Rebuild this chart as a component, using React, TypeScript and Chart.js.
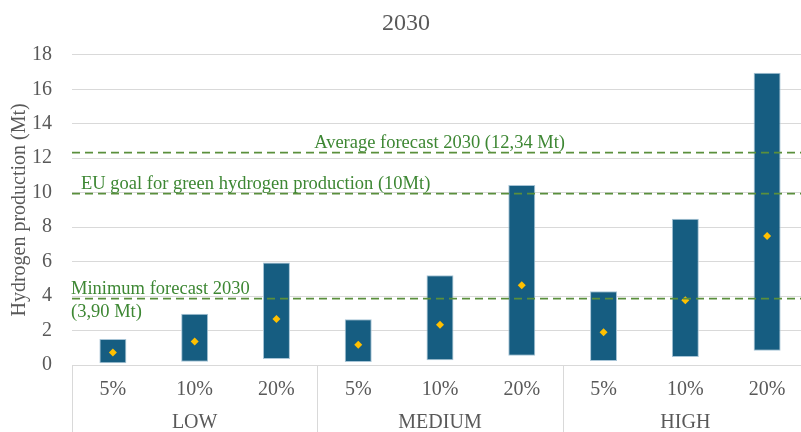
import { useEffect, useRef } from 'react';
import { Chart, registerables } from 'chart.js';

Chart.register(...registerables);

const chartTitle = '2030';
const yAxisTitle = 'Hydrogen production (Mt)';
const scenarios = ['LOW', 'MEDIUM', 'HIGH'];
const shares = ['5%', '10%', '20%'];
const categories = ['5%', '10%', '20%', '5%', '10%', '20%', '5%', '10%', '20%'];
const minValues = [0.1, 0.19, 0.35, 0.17, 0.27, 0.54, 0.23, 0.47, 0.83];
const maxValues = [1.51, 2.98, 5.95, 2.66, 5.21, 10.45, 4.28, 8.49, 16.96];
const meanValues = [0.72, 1.36, 2.67, 1.18, 2.34, 4.63, 1.9, 3.76, 7.48];
const yTicks = [0, 2, 4, 6, 8, 10, 12, 14, 16, 18];
const refValues = [12.34, 10, 3.9];
const refLabels = [
  ['Average forecast 2030 (12,34 Mt)'],
  ['EU goal for green hydrogen production (10Mt)'],
  ['Minimum forecast 2030', '(3,90 Mt)'],
];

const FONT = "'Liberation Serif', 'Times New Roman', serif";
const GRAY = '#595959';
const GRID = '#d9d9d9';
const GREEN_LINE = '#5a8f3c';
const GREEN_TEXT = '#3d8733';

const W = 812;
const H = 432;

const overlayPlugin = {
  id: 'overlay',
  afterDatasetsDraw(chart: any) {
    const { ctx, chartArea, scales } = chart;
    const x = scales.x;
    const y = scales.y;
    ctx.save();
    // reference lines
    ctx.strokeStyle = GREEN_LINE;
    ctx.lineWidth = 1.75;
    ctx.setLineDash([8, 5]);
    refValues.forEach((v) => {
      const py = Math.round(y.getPixelForValue(v)) + 0.5;
      ctx.beginPath();
      ctx.moveTo(chartArea.left, py);
      ctx.lineTo(chartArea.right, py);
      ctx.stroke();
    });
    ctx.setLineDash([]);
    // reference labels
    ctx.fillStyle = GREEN_TEXT;
    ctx.font = `18.5px ${FONT}`;
    ctx.textBaseline = 'alphabetic';
    const pAvg = y.getPixelForValue(refValues[0]);
    ctx.textAlign = 'right';
    ctx.fillText(refLabels[0][0], 565, pAvg - 4);
    const pEu = y.getPixelForValue(refValues[1]);
    ctx.textAlign = 'left';
    ctx.fillText(refLabels[1][0], 81, pEu - 4);
    const pMin = y.getPixelForValue(refValues[2]);
    ctx.fillText(refLabels[2][0], 71, pMin - 4);
    ctx.fillText(refLabels[2][1], 71, pMin + 19);
    ctx.restore();
  },
  afterDraw(chart: any) {
    const { ctx, chartArea, scales } = chart;
    const x = scales.x;
    const half = (x.getPixelForValue(1) - x.getPixelForValue(0)) / 2;
    ctx.save();
    ctx.strokeStyle = GRID;
    ctx.lineWidth = 1;
    for (let g = 0; g <= scenarios.length; g++) {
      const idx = g * shares.length;
      const px = Math.round(
        idx < categories.length ? x.getPixelForValue(idx) - half : x.getPixelForValue(categories.length - 1) + half
      ) + 0.5;
      ctx.beginPath();
      ctx.moveTo(px, chartArea.bottom);
      ctx.lineTo(px, H);
      ctx.stroke();
    }
    ctx.fillStyle = GRAY;
    ctx.font = `20px ${FONT}`;
    ctx.textAlign = 'center';
    ctx.textBaseline = 'middle';
    scenarios.forEach((s, g) => {
      const px = x.getPixelForValue(g * shares.length + 1);
      ctx.fillText(s, px, 423);
    });
    ctx.restore();
  },
};

export default function App() {
  const ref = useRef<HTMLCanvasElement>(null);
  useEffect(() => {
    document.body.style.overflow = 'hidden';
    const canvas = ref.current!;
    const chart = new Chart(canvas, {
      type: 'bar',
      data: {
        labels: categories,
        datasets: [
          {
            type: 'line',
            label: 'Mean',
            data: meanValues,
            showLine: false,
            pointStyle: 'rectRot',
            pointRadius: 4,
            pointBackgroundColor: '#ffc000',
            pointBorderColor: '#ffc000',
            pointBorderWidth: 0,
            order: 0,
          } as any,
          {
            type: 'bar',
            label: 'Range',
            data: minValues.map((m, i) => [m, maxValues[i]]) as any,
            backgroundColor: '#165d81',
            borderColor: '#a7c4d6',
            borderWidth: 1,
            borderSkipped: false,
            barPercentage: 0.33,
            categoryPercentage: 1,
            order: 1,
          },
        ],
      },
      options: {
        responsive: false,
        animation: false,
        devicePixelRatio: 1,
        layout: { padding: 0 },
        font: { family: FONT },
        plugins: {
          legend: { display: false },
          tooltip: { enabled: false },
          title: {
            display: true,
            text: chartTitle,
            color: GRAY,
            font: { family: FONT, size: 24, weight: 'normal' },
            padding: { top: 9, bottom: 17 },
          },
        },
        scales: {
          x: {
            offset: true,
            grid: { display: false, drawTicks: false },
            border: { display: true, color: GRID, width: 1 },
            ticks: { color: GRAY, font: { family: FONT, size: 20 }, padding: 13, maxRotation: 0, autoSkip: false },
            afterFit: (s: any) => { s.height = H - 365; },
          },
          y: {
            min: 0,
            max: 18,
            afterBuildTicks: (s: any) => { s.ticks = yTicks.map((v) => ({ value: v })); },
            grid: { color: GRID, lineWidth: 1, drawTicks: false },
            border: { display: false },
            ticks: { color: GRAY, font: { family: FONT, size: 20 }, padding: 20 },
            title: {
              display: true,
              text: yAxisTitle,
              color: GRAY,
              font: { family: FONT, size: 20 },
              padding: { top: 8, bottom: 0 },
            },
            afterFit: (s: any) => { s.width = 72; },
          },
        },
      },
      plugins: [overlayPlugin],
    });
    return () => chart.destroy();
  }, []);
  return (
    <div style={{ position: 'fixed', left: 0, top: 0, width: W, height: H, overflow: 'hidden', background: '#fff' }}>
      <canvas ref={ref} width={W} height={H} style={{ display: 'block', width: W, height: H }} />
    </div>
  );
}
